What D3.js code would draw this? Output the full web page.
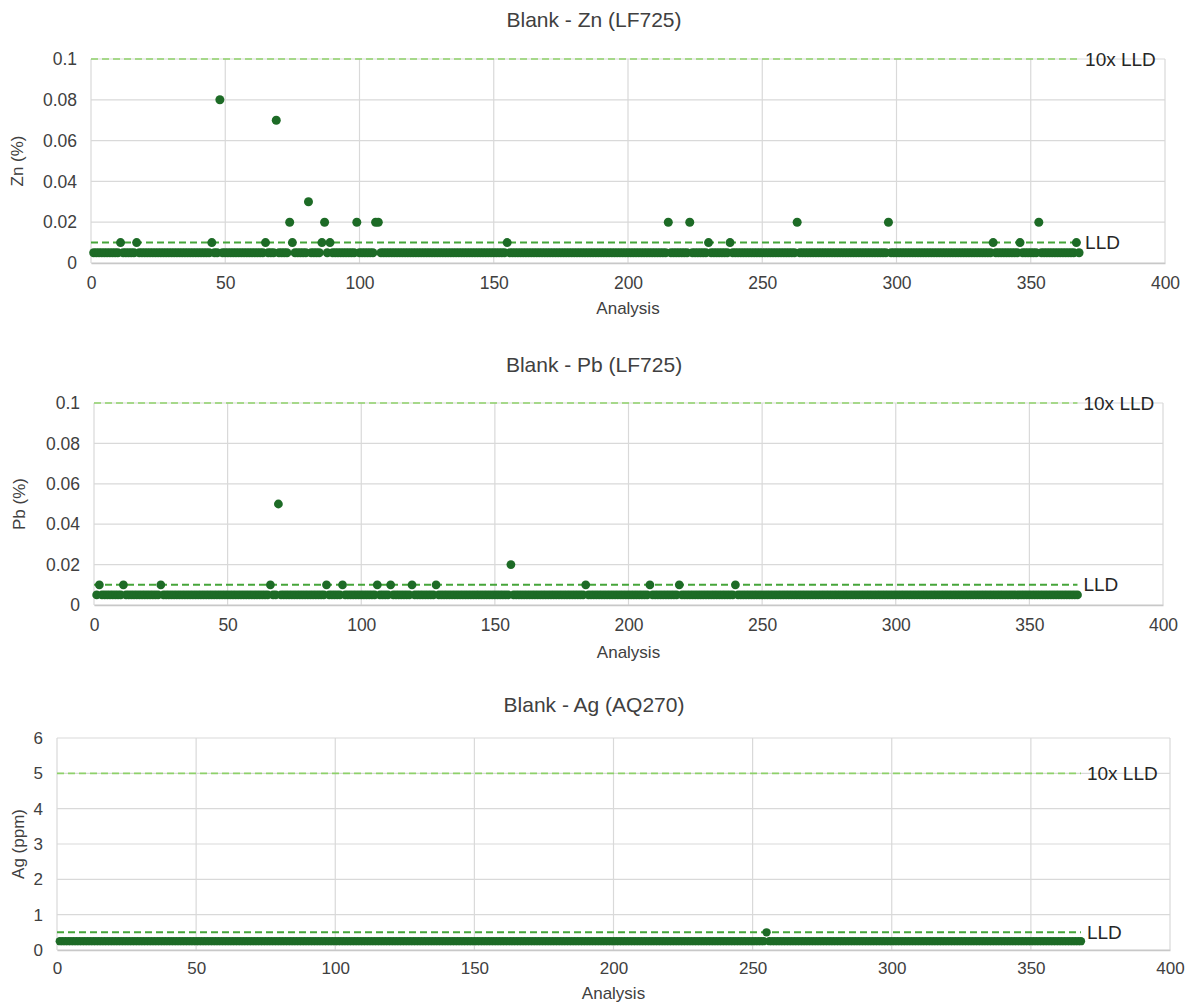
<!DOCTYPE html>
<html>
<head>
<meta charset="utf-8">
<script src="https://cdn.jsdelivr.net/npm/d3@7"></script>
<style>
  html, body { margin: 0; padding: 0; background: #ffffff; }
  svg { display: block; font-family: "Liberation Sans", Arial, sans-serif; }
</style>
</head>
<body>
<svg id="chart" width="1188" height="1002"></svg>
<script>
// ---------------- DATA ----------------
const analysisCount = 368;               // analyses 1..368
const xTicks = [0, 50, 100, 150, 200, 250, 300, 350, 400];

// Zn (%) – LF725
const znTitle = "Blank - Zn (LF725)";
const znYLabel = "Zn (%)";
const znLLD = 0.01;
const zn10xLLD = 0.1;
const znBelowLLD = 0.005;                // value reported for results < LLD
const znYTicks = [0, 0.02, 0.04, 0.06, 0.08, 0.1];
const znAt001 = [11, 17, 45, 65, 75, 86, 89, 155, 230, 238, 336, 346, 367];
const znAt002 = [74, 87, 99, 106, 107, 215, 223, 263, 297, 353];
const znAt003 = [81];
const znAt007 = [69];
const znAt008 = [48];

// Pb (%) – LF725
const pbTitle = "Blank - Pb (LF725)";
const pbYLabel = "Pb (%)";
const pbLLD = 0.01;
const pb10xLLD = 0.1;
const pbBelowLLD = 0.005;
const pbYTicks = [0, 0.02, 0.04, 0.06, 0.08, 0.1];
const pbAt001 = [2, 11, 25, 66, 87, 93, 106, 111, 119, 128, 184, 208, 219, 240];
const pbAt002 = [156];
const pbAt005 = [69];

// Ag (ppm) – AQ270
const agTitle = "Blank - Ag (AQ270)";
const agYLabel = "Ag (ppm)";
const agLLD = 0.5;
const ag10xLLD = 5;
const agBelowLLD = 0.25;
const agYTicks = [0, 1, 2, 3, 4, 5, 6];
const agAt05 = [255];

// build series (index -> value)
function buildSeries(base, groups) {
  const m = new Map();
  groups.forEach(([v, idx]) => idx.forEach(i => m.set(i, v)));
  return d3.range(1, analysisCount + 1).map(i => ({ x: i, y: m.has(i) ? m.get(i) : base }));
}
const znSeries = buildSeries(znBelowLLD, [[0.01, znAt001], [0.02, znAt002], [0.03, znAt003], [0.07, znAt007], [0.08, znAt008]]);
const pbSeries = buildSeries(pbBelowLLD, [[0.01, pbAt001], [0.02, pbAt002], [0.05, pbAt005]]);
const agSeries = buildSeries(agBelowLLD, [[0.5, agAt05]]);

// ---------------- STYLE ----------------
const textColor = "#404040";
const gridColor = "#d9d9d9";
const axisColor = "#c8c8c8";
const markerColor = "#1d6b26";
const lldColor = "#46a53a";
const lld10Color = "#8ed16a";

const svg = d3.select("#chart");

function drawChart(cfg) {
  const g = svg.append("g");
  const x = d3.scaleLinear().domain([0, 400]).range([cfg.left, cfg.right]);
  const y = d3.scaleLinear().domain([0, cfg.yMax]).range([cfg.bottom, cfg.top]);

  // gridlines
  g.append("g").selectAll("line.h").data(cfg.yTicks).join("line")
    .attr("x1", cfg.left).attr("x2", cfg.right)
    .attr("y1", d => y(d)).attr("y2", d => y(d))
    .attr("stroke", gridColor).attr("stroke-width", 1.2);
  g.append("g").selectAll("line.v").data(xTicks).join("line")
    .attr("x1", d => x(d)).attr("x2", d => x(d))
    .attr("y1", cfg.top).attr("y2", cfg.bottom)
    .attr("stroke", gridColor).attr("stroke-width", 1.2);

  // x axis
  const xAxis = d3.axisBottom(x).tickValues(xTicks).tickSize(0).tickPadding(cfg.xTickPad).tickFormat(d3.format("d"));
  const xa = g.append("g").attr("transform", `translate(0,${cfg.bottom})`).call(xAxis);
  xa.select(".domain").attr("stroke", axisColor).attr("stroke-width", 1.6);
  xa.selectAll("text").attr("fill", textColor).attr("font-size", cfg.tickFont)
    .attr("font-family", "Liberation Sans, Arial, sans-serif");

  // y axis
  const yAxis = d3.axisLeft(y).tickValues(cfg.yTicks).tickSize(0).tickPadding(14).tickFormat(d => d3.format("~g")(d));
  const ya = g.append("g").attr("transform", `translate(${cfg.left},0)`).call(yAxis);
  ya.select(".domain").remove();
  ya.selectAll("text").attr("fill", textColor).attr("font-size", cfg.tickFont)
    .attr("font-family", "Liberation Sans, Arial, sans-serif");

  // reference lines
  const xEnd = x(analysisCount);
  g.append("line").attr("x1", x(0)).attr("x2", xEnd)
    .attr("y1", y(cfg.lld10)).attr("y2", y(cfg.lld10))
    .attr("stroke", lld10Color).attr("stroke-width", 1.6).attr("stroke-dasharray", "7,4");
  g.append("line").attr("x1", x(0)).attr("x2", xEnd)
    .attr("y1", y(cfg.lld)).attr("y2", y(cfg.lld))
    .attr("stroke", lldColor).attr("stroke-width", 2).attr("stroke-dasharray", "7,4");

  g.append("text").attr("x", xEnd + 6).attr("y", y(cfg.lld10)).attr("dy", "0.35em")
    .attr("fill", "#262626").attr("font-size", 19).text("10x LLD");
  g.append("text").attr("x", xEnd + 6).attr("y", y(cfg.lld)).attr("dy", "0.35em")
    .attr("fill", "#262626").attr("font-size", 19).text("LLD");

  // points
  g.append("g").selectAll("circle").data(cfg.series).join("circle")
    .attr("cx", d => x(d.x)).attr("cy", d => y(d.y)).attr("r", cfg.r)
    .attr("fill", markerColor);

  // titles
  g.append("text").attr("x", 594).attr("y", cfg.titleY).attr("text-anchor", "middle")
    .attr("fill", textColor).attr("font-size", 21).text(cfg.title);
  g.append("text").attr("x", (cfg.left + cfg.right) / 2).attr("y", cfg.xLabelY).attr("text-anchor", "middle")
    .attr("fill", textColor).attr("font-size", 17).text("Analysis");
  g.append("text").attr("transform", `translate(${cfg.yLabelX},${(cfg.top + cfg.bottom) / 2}) rotate(-90)`)
    .attr("text-anchor", "middle").attr("dy", "0.35em")
    .attr("fill", textColor).attr("font-size", 17).text(cfg.yLabel);
}

drawChart({ title: znTitle, yLabel: znYLabel, series: znSeries, lld: znLLD, lld10: zn10xLLD,
  yMax: 0.1, yTicks: znYTicks, left: 91, right: 1165, top: 59, bottom: 263,
  titleY: 27, xLabelY: 314, yLabelX: 17, xTickPad: 14, tickFont: 17.5, r: 4.5 });

drawChart({ title: pbTitle, yLabel: pbYLabel, series: pbSeries, lld: pbLLD, lld10: pb10xLLD,
  yMax: 0.1, yTicks: pbYTicks, left: 94, right: 1163, top: 403, bottom: 605,
  titleY: 372, xLabelY: 658, yLabelX: 19, xTickPad: 14, tickFont: 17.5, r: 4.4 });

drawChart({ title: agTitle, yLabel: agYLabel, series: agSeries, lld: agLLD, lld10: ag10xLLD,
  yMax: 6, yTicks: agYTicks, left: 57, right: 1170, top: 738, bottom: 950,
  titleY: 712, xLabelY: 999, yLabelX: 18, xTickPad: 12, tickFont: 17, r: 4.2 });
</script>
</body>
</html>
